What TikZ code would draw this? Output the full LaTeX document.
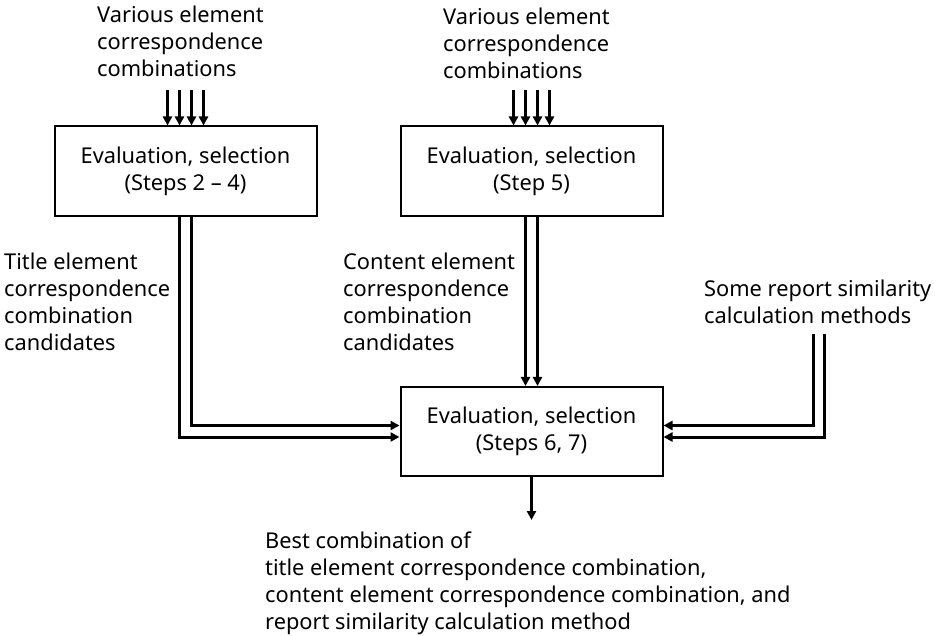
\documentclass[tikz,border=0pt]{standalone}
\usepackage{fontspec}
\setmainfont{Noto Sans}
\usetikzlibrary{shapes,arrows.meta}
\tikzstyle{block} = [rectangle, draw, line width=2pt,
    text centered, align=center, inner sep=0pt, minimum width=262pt]
\tikzstyle{label} = [align=left, inner sep=0pt, anchor=west]
\tikzstyle{arr} = [line width=3pt, -{Triangle[length=9pt,width=9pt]}]

\begin{document}
\begin{tikzpicture}[x=1pt, y=-1pt, font=\fontsize{21.8}{27}\selectfont]
	\useasboundingbox (0,0) rectangle (935,636);
	\node [block, minimum height=90pt] (sel1) at (185.5,171.5) {Evaluation, selection\\(Steps 2 -- 4)};
	\node [block, minimum height=90pt] (sel2) at (531.5,171.5) {Evaluation, selection\\(Step 5)};
	\node [block, minimum height=89pt] (sel3) at (531.5,431.5) {Evaluation, selection\\(Steps 6, 7)};

	\node [label] (var1) at (97,41) {Various element\\correspondence\\combinations};
	\node [label] (var2) at (443,43) {Various element\\correspondence\\combinations};
	\node [label] (title) at (4,302) {Title element\\correspondence\\combination\\candidates};
	\node [label] (content) at (343,302) {Content element\\correspondence\\combination\\candidates};
	\node [label] (report) at (704,302) {Some report similarity\\calculation methods};
	\node [label] (best) at (265,583) {Best combination of\\title element correspondence combination,\\content element correspondence combination, and\\report similarity calculation method};

	\coordinate (m1) at (813,334);
	\coordinate (m2) at (824,334);
	\coordinate (out) at (531.5,520);

	% inputs
	\foreach \dx in {-18,-6,6,18} {
		\draw[arr] ([xshift=\dx pt, yshift=35pt]sel1.north) -- ([xshift=\dx pt]sel1.north);
		\draw[arr] ([xshift=\dx pt, yshift=35pt]sel2.north) -- ([xshift=\dx pt]sel2.north);
	}

	% candidates
	\draw[arr] ([xshift=-6pt]sel1.south) |- ([yshift=-5.5pt]sel3.west);
	\draw[arr] ([xshift=6pt]sel1.south) |- ([yshift=6pt]sel3.west);
	\draw[arr] ([xshift=-6pt]sel2.south) -- ([xshift=-6pt]sel3.north);
	\draw[arr] ([xshift=6pt]sel2.south) -- ([xshift=6pt]sel3.north);
	\draw[arr] (m1) |- ([yshift=6pt]sel3.east);
	\draw[arr] (m2) |- ([yshift=-5.5pt]sel3.east);
	\draw[arr] (sel3.south) -- (out);
\end{tikzpicture}
\end{document}
